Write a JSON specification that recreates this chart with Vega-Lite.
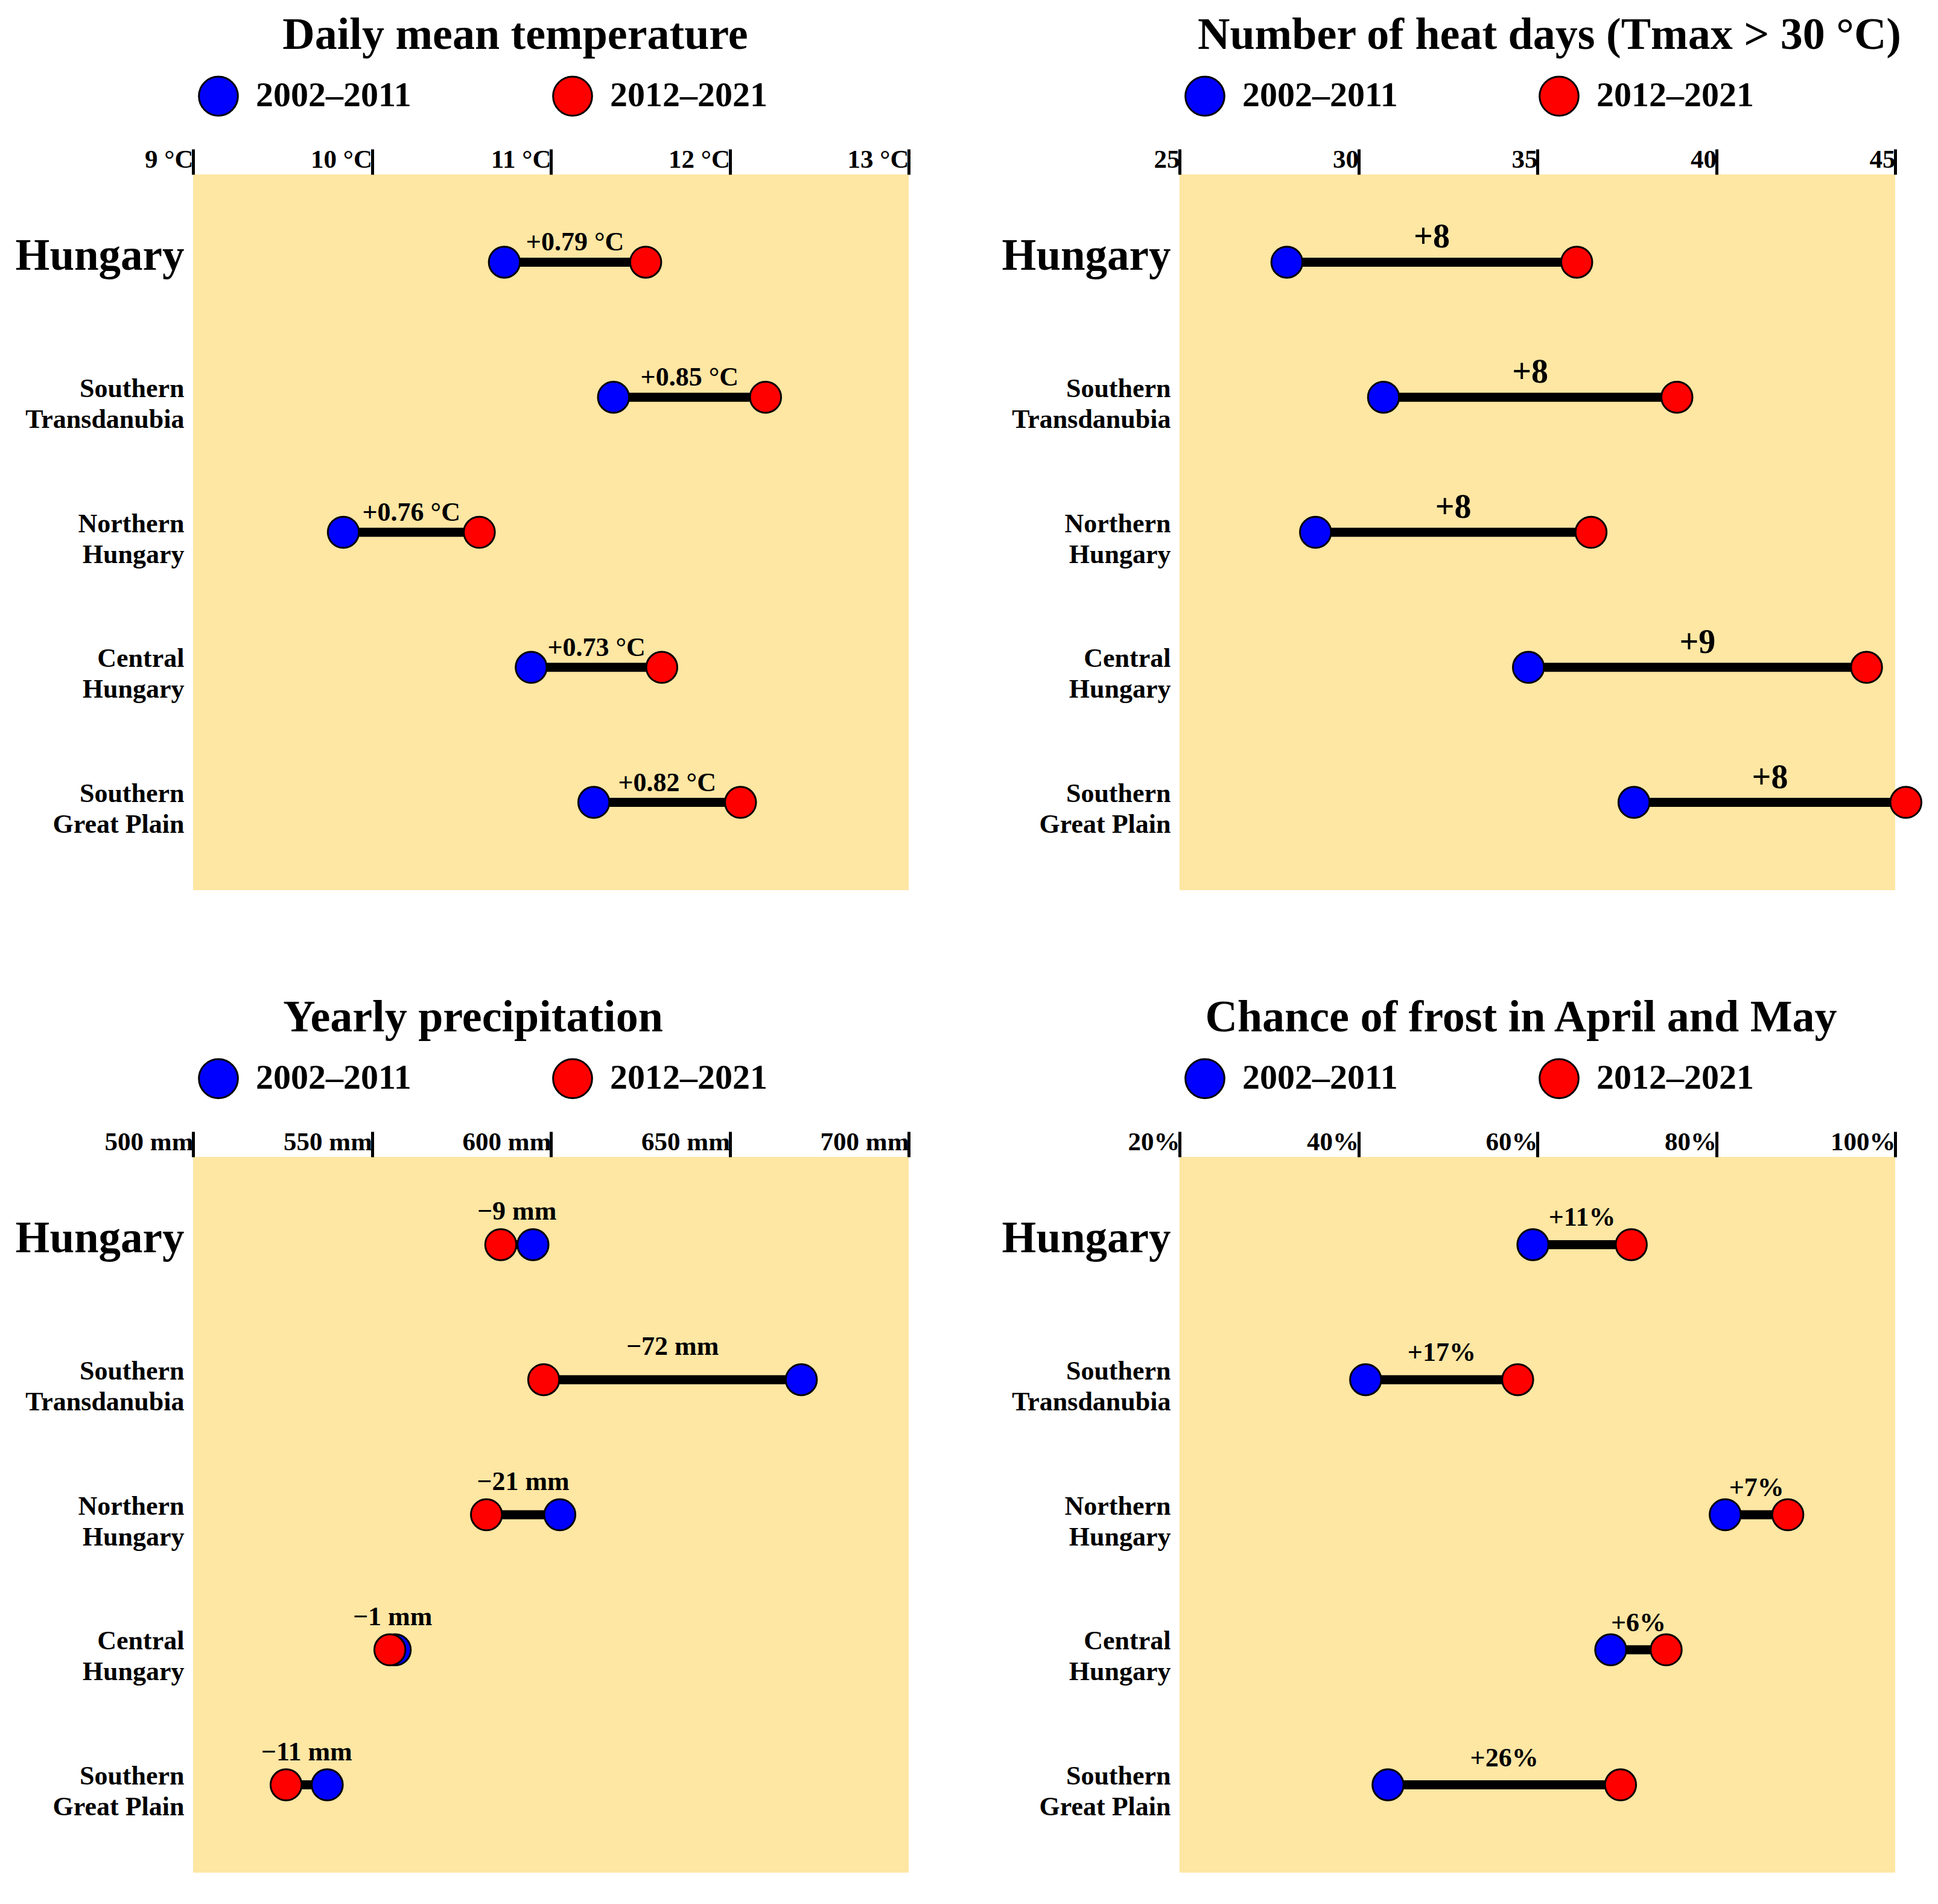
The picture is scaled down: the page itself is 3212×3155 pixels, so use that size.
{
  "$schema": "https://vega.github.io/schema/vega-lite/v6.json",
  "background": "white",
  "padding": {"left": 25, "top": 22, "right": 5, "bottom": 5},
  "config": {
    "font": "Liberation Serif",
    "view": {"fill": "#FEE6A3", "stroke": null},
    "title": {"font": "Liberation Serif", "fontSize": 74, "fontWeight": "bold", "color": "black", "anchor": "middle", "frame": "group", "offset": 20},
    "axisX": {"orient": "top", "title": null, "grid": false, "domain": false, "ticks": true, "tickSize": 42, "tickWidth": 5, "tickColor": "black", "labelAlign": "right", "labelDx": -10, "labelPadding": -39, "labelBaseline": "bottom", "labelFlush": false, "labelOverlap": false, "labelFont": "Liberation Serif", "labelFontWeight": "bold", "labelFontSize": 43, "labelColor": "black"},
    "axisY": {"title": null, "ticks": false, "domain": false, "grid": false, "labelPadding": 15, "labelFont": "Liberation Serif", "labelFontWeight": "bold", "labelColor": "black", "labelLimit": 600, "labelLineHeight": 51},
    "legend": {"orient": "top", "direction": "horizontal", "title": null, "symbolType": "circle", "symbolSize": 4185, "symbolStrokeColor": "black", "symbolStrokeWidth": 3, "symbolOpacity": 1, "labelFont": "Liberation Serif", "labelFontWeight": "bold", "labelFontSize": 58, "labelColor": "black", "labelOffset": 28, "columnPadding": 228, "labelLimit": 600, "offset": 37, "padding": 8}
  },
  "datasets": {
    "temp": [
      {"region": "Hungary", "2002–2011": 10.74, "2012–2021": 11.53, "change": "+0.79 °C"},
      {"region": "Southern Transdanubia", "2002–2011": 11.35, "2012–2021": 12.2, "change": "+0.85 °C"},
      {"region": "Northern Hungary", "2002–2011": 9.84, "2012–2021": 10.6, "change": "+0.76 °C"},
      {"region": "Central Hungary", "2002–2011": 10.89, "2012–2021": 11.62, "change": "+0.73 °C"},
      {"region": "Southern Great Plain", "2002–2011": 11.24, "2012–2021": 12.06, "change": "+0.82 °C"}
    ],
    "heat": [
      {"region": "Hungary", "2002–2011": 28.0, "2012–2021": 36.1, "change": "+8"},
      {"region": "Southern Transdanubia", "2002–2011": 30.7, "2012–2021": 38.9, "change": "+8"},
      {"region": "Northern Hungary", "2002–2011": 28.8, "2012–2021": 36.5, "change": "+8"},
      {"region": "Central Hungary", "2002–2011": 34.75, "2012–2021": 44.2, "change": "+9"},
      {"region": "Southern Great Plain", "2002–2011": 37.7, "2012–2021": 45.3, "change": "+8"}
    ],
    "precip": [
      {"region": "Hungary", "2002–2011": 595, "2012–2021": 586, "change": "−9 mm"},
      {"region": "Southern Transdanubia", "2002–2011": 670, "2012–2021": 598, "change": "−72 mm"},
      {"region": "Northern Hungary", "2002–2011": 602.5, "2012–2021": 582, "change": "−21 mm"},
      {"region": "Central Hungary", "2002–2011": 556.5, "2012–2021": 555, "change": "−1 mm"},
      {"region": "Southern Great Plain", "2002–2011": 537.5, "2012–2021": 526, "change": "−11 mm"}
    ],
    "frost": [
      {"region": "Hungary", "2002–2011": 59.5, "2012–2021": 70.5, "change": "+11%"},
      {"region": "Southern Transdanubia", "2002–2011": 40.8, "2012–2021": 57.8, "change": "+17%"},
      {"region": "Northern Hungary", "2002–2011": 81.0, "2012–2021": 88.0, "change": "+7%"},
      {"region": "Central Hungary", "2002–2011": 68.2, "2012–2021": 74.4, "change": "+6%"},
      {"region": "Southern Great Plain", "2002–2011": 43.3, "2012–2021": 69.3, "change": "+26%"}
    ]
  },
  "columns": 2,
  "spacing": {"row": 175, "column": 151},
  "resolve": {"scale": {"color": "independent", "x": "independent", "y": "independent"}, "legend": {"color": "independent"}},
  "concat": [
    {
      "title": {"text": "Daily mean temperature", "dx": -59},
      "width": 1186, "height": 1186,
      "data": {"name": "temp"},
      "encoding": {
        "y": {"field": "region", "type": "nominal", "sort": ["Hungary", "Southern Transdanubia", "Northern Hungary", "Central Hungary", "Southern Great Plain"], "scale": {"type": "point", "padding": 0.65},
          "axis": {"labelExpr": "datum.value == 'Southern Great Plain' ? ['Southern', 'Great Plain'] : split(datum.value, ' ')", "labelFontSize": {"condition": {"test": "datum.value == 'Hungary'", "value": 73}, "value": 44}, "labelOffset": {"condition": {"test": "datum.value == 'Hungary'", "value": -10}, "value": -14}}}
      },
      "layer": [
        {"mark": {"type": "rule", "color": "black", "strokeWidth": 15},
         "encoding": {"x": {"field": "2002–2011", "type": "quantitative", "scale": {"domain": [9, 13], "nice": false, "zero": false}, "axis": {"values": [9, 10, 11, 12, 13], "labelExpr": "datum.value + ' °C'"}}, "x2": {"field": "2012–2021"}}},
        {"transform": [{"fold": ["2002–2011", "2012–2021"], "as": ["period", "value"]}],
         "mark": {"type": "circle", "size": 2650, "opacity": 1, "stroke": "black", "strokeWidth": 3},
         "encoding": {"x": {"field": "value", "type": "quantitative"}, "color": {"field": "period", "type": "nominal", "scale": {"domain": ["2002–2011", "2012–2021"], "range": ["#0000FF", "#FF0000"]}}}},
        {"transform": [{"fold": ["2002–2011", "2012–2021"], "as": ["period", "value"]}],
         "mark": {"type": "text", "font": "Liberation Serif", "fontWeight": "bold", "fontSize": 44, "baseline": "middle", "dy": -32, "color": "black"},
         "encoding": {"x": {"aggregate": "mean", "field": "value", "type": "quantitative"}, "text": {"field": "change", "type": "nominal"}}}
      ]
    },
    {
      "title": {"text": "Number of heat days (Tmax > 30 °C)", "dx": 20},
      "width": 1186, "height": 1186,
      "data": {"name": "heat"},
      "encoding": {
        "y": {"field": "region", "type": "nominal", "sort": ["Hungary", "Southern Transdanubia", "Northern Hungary", "Central Hungary", "Southern Great Plain"], "scale": {"type": "point", "padding": 0.65},
          "axis": {"labelExpr": "datum.value == 'Southern Great Plain' ? ['Southern', 'Great Plain'] : split(datum.value, ' ')", "labelFontSize": {"condition": {"test": "datum.value == 'Hungary'", "value": 73}, "value": 44}, "labelOffset": {"condition": {"test": "datum.value == 'Hungary'", "value": -10}, "value": -14}}}
      },
      "layer": [
        {"mark": {"type": "rule", "color": "black", "strokeWidth": 15},
         "encoding": {"x": {"field": "2002–2011", "type": "quantitative", "scale": {"domain": [25, 45], "nice": false, "zero": false}, "axis": {"values": [25, 30, 35, 40, 45], "format": "d"}}, "x2": {"field": "2012–2021"}}},
        {"transform": [{"fold": ["2002–2011", "2012–2021"], "as": ["period", "value"]}],
         "mark": {"type": "circle", "size": 2650, "opacity": 1, "stroke": "black", "strokeWidth": 3},
         "encoding": {"x": {"field": "value", "type": "quantitative"}, "color": {"field": "period", "type": "nominal", "scale": {"domain": ["2002–2011", "2012–2021"], "range": ["#0000FF", "#FF0000"]}}}},
        {"transform": [{"fold": ["2002–2011", "2012–2021"], "as": ["period", "value"]}],
         "mark": {"type": "text", "font": "Liberation Serif", "fontWeight": "bold", "fontSize": 56, "baseline": "middle", "dy": -41, "color": "black"},
         "encoding": {"x": {"aggregate": "mean", "field": "value", "type": "quantitative"}, "text": {"field": "change", "type": "nominal"}}}
      ]
    },
    {
      "title": {"text": "Yearly precipitation", "dx": -129},
      "width": 1186, "height": 1186,
      "data": {"name": "precip"},
      "encoding": {
        "y": {"field": "region", "type": "nominal", "sort": ["Hungary", "Southern Transdanubia", "Northern Hungary", "Central Hungary", "Southern Great Plain"], "scale": {"type": "point", "padding": 0.65},
          "axis": {"labelExpr": "datum.value == 'Southern Great Plain' ? ['Southern', 'Great Plain'] : split(datum.value, ' ')", "labelFontSize": {"condition": {"test": "datum.value == 'Hungary'", "value": 73}, "value": 44}, "labelOffset": {"condition": {"test": "datum.value == 'Hungary'", "value": -10}, "value": -14}}}
      },
      "layer": [
        {"mark": {"type": "rule", "color": "black", "strokeWidth": 15},
         "encoding": {"x": {"field": "2002–2011", "type": "quantitative", "scale": {"domain": [500, 700], "nice": false, "zero": false}, "axis": {"values": [500, 550, 600, 650, 700], "labelExpr": "datum.value + ' mm'"}}, "x2": {"field": "2012–2021"}}},
        {"transform": [{"fold": ["2002–2011", "2012–2021"], "as": ["period", "value"]}],
         "mark": {"type": "circle", "size": 2650, "opacity": 1, "stroke": "black", "strokeWidth": 3},
         "encoding": {"x": {"field": "value", "type": "quantitative"}, "color": {"field": "period", "type": "nominal", "scale": {"domain": ["2002–2011", "2012–2021"], "range": ["#0000FF", "#FF0000"]}}}},
        {"transform": [{"fold": ["2002–2011", "2012–2021"], "as": ["period", "value"]}],
         "mark": {"type": "text", "font": "Liberation Serif", "fontWeight": "bold", "fontSize": 44, "baseline": "middle", "dy": -54, "color": "black"},
         "encoding": {"x": {"aggregate": "mean", "field": "value", "type": "quantitative"}, "text": {"field": "change", "type": "nominal"}}}
      ]
    },
    {
      "title": {"text": "Chance of frost in April and May", "dx": -27},
      "width": 1186, "height": 1186,
      "data": {"name": "frost"},
      "encoding": {
        "y": {"field": "region", "type": "nominal", "sort": ["Hungary", "Southern Transdanubia", "Northern Hungary", "Central Hungary", "Southern Great Plain"], "scale": {"type": "point", "padding": 0.65},
          "axis": {"labelExpr": "datum.value == 'Southern Great Plain' ? ['Southern', 'Great Plain'] : split(datum.value, ' ')", "labelFontSize": {"condition": {"test": "datum.value == 'Hungary'", "value": 73}, "value": 44}, "labelOffset": {"condition": {"test": "datum.value == 'Hungary'", "value": -10}, "value": -14}}}
      },
      "layer": [
        {"mark": {"type": "rule", "color": "black", "strokeWidth": 15},
         "encoding": {"x": {"field": "2002–2011", "type": "quantitative", "scale": {"domain": [20, 100], "nice": false, "zero": false}, "axis": {"values": [20, 40, 60, 80, 100], "labelExpr": "datum.value + '%'"}}, "x2": {"field": "2012–2021"}}},
        {"transform": [{"fold": ["2002–2011", "2012–2021"], "as": ["period", "value"]}],
         "mark": {"type": "circle", "size": 2650, "opacity": 1, "stroke": "black", "strokeWidth": 3},
         "encoding": {"x": {"field": "value", "type": "quantitative"}, "color": {"field": "period", "type": "nominal", "scale": {"domain": ["2002–2011", "2012–2021"], "range": ["#0000FF", "#FF0000"]}}}},
        {"transform": [{"fold": ["2002–2011", "2012–2021"], "as": ["period", "value"]}],
         "mark": {"type": "text", "font": "Liberation Serif", "fontWeight": "bold", "fontSize": 44, "baseline": "middle", "dy": -44, "color": "black"},
         "encoding": {"x": {"aggregate": "mean", "field": "value", "type": "quantitative"}, "text": {"field": "change", "type": "nominal"}}}
      ]
    }
  ]
}
